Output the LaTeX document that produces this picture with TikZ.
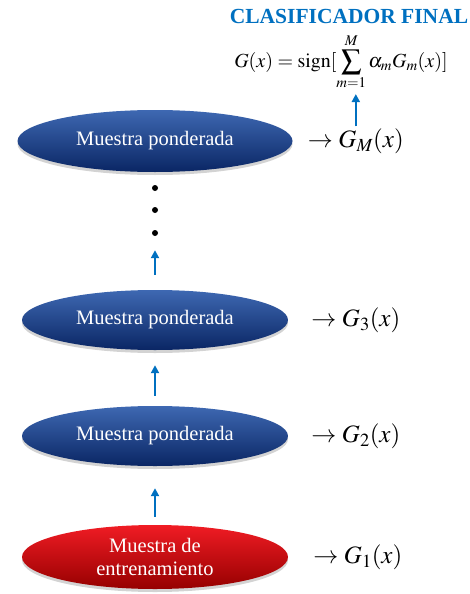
\documentclass[tikz,border=0pt]{standalone}
\usepackage{mathptmx}
\usepackage{fontspec}
\setmainfont{Liberation Serif}
\usetikzlibrary{arrows.meta,positioning,shapes.geometric,shadows}
\definecolor{boostblue}{RGB}{0,112,192}
\definecolor{navytop}{RGB}{62,104,178}
\definecolor{navybot}{RGB}{10,38,100}
\definecolor{redtop}{RGB}{240,28,36}
\definecolor{redbot}{RGB}{150,0,0}

\begin{document}
\begin{tikzpicture}[
    x=1pt, y=-1pt,
    sample/.style={ellipse, minimum width=266pt, minimum height=60pt, inner sep=0pt, text=white, align=center,
      font=\fontsize{20.5}{23}\selectfont, drop shadow={opacity=0.35, shadow xshift=0pt, shadow yshift=-3pt}},
    weighted/.style={sample, top color=navytop, bottom color=navybot},
    trainset/.style={sample, top color=redtop, bottom color=redbot},
    clf/.style={font=\fontsize{25}{27}\selectfont, inner sep=1pt},
    title/.style={font=\fontsize{21.5}{24}\selectfont\bfseries, text=boostblue},
    arrow/.style={-{Triangle[length=8pt, width=8pt]}, line width=2.5pt, boostblue},
    dot/.style={circle, fill=black, inner sep=0pt, minimum size=6pt}
  ]
  \useasboundingbox (0,0) rectangle (470,594);

  % Final classifier
  \node[title] (title) at (349,16) {CLASIFICADOR FINAL};
  \node[font=\fontsize{20}{22}\selectfont, inner sep=0pt] (final) at (341,62)
    {$\displaystyle G(x)=\mathrm{sign}[\sum_{m=1}^{M}\alpha_m G_m(x)]$};

  % Samples
  \node[weighted, minimum width=275pt, minimum height=62pt] (wM) at (155,141) {Muestra ponderada};
  \node[weighted] (w3) at (155,320) {Muestra ponderada};
  \node[weighted] (w2) at (155,436) {Muestra ponderada};
  \node[trainset, minimum height=64pt] (train) at (155,557) {Muestra de\\entrenamiento};

  % Weak classifiers
  \node[clf, right=14pt of wM] (gM) {$\to G_M(x)$};
  \node[clf, right=22pt of w3] (g3) {$\to G_3(x)$};
  \node[clf, right=22pt of w2] (g2) {$\to G_2(x)$};
  \node[clf, right=24pt of train] (g1) {$\to G_1(x)$};

  % Dots
  \node[dot] (d1) at (155,188) {};
  \node[dot] (d2) at (155,210) {};
  \node[dot] (d3) at (155,233) {};

  % Arrows
  \draw[arrow, shorten <=8pt, shorten >=22pt] (train) -- (w2);
  \draw[arrow, shorten <=10pt, shorten >=15pt] (w2) -- (w3);
  \draw[arrow, shorten <=15pt, shorten >=14pt] (w3) -- (d3);
  \draw[arrow, shorten <=1pt, shorten >=4pt] (gM.north) -- (gM.north |- final.south);

\end{tikzpicture}
\end{document}
